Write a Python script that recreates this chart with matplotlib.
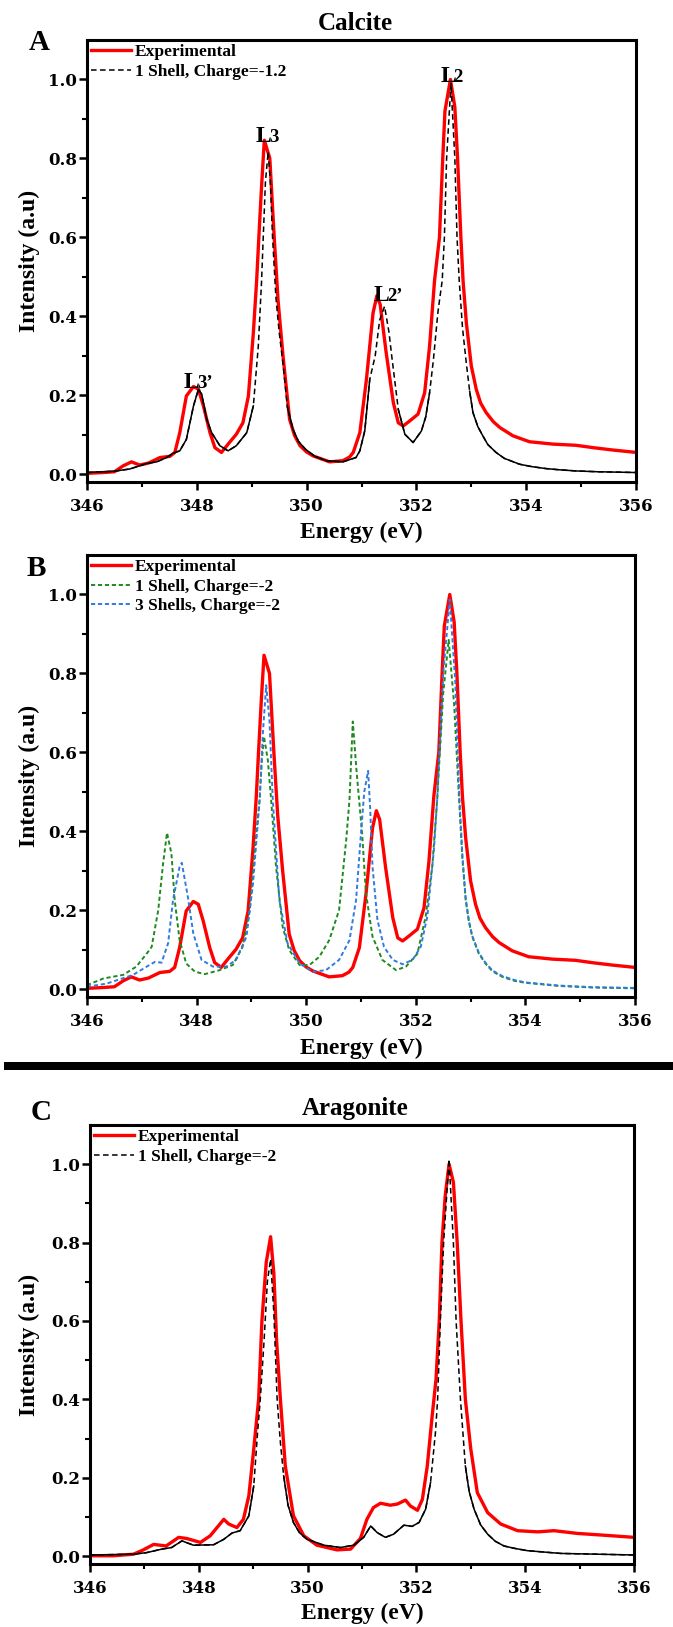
import numpy as np
import matplotlib
matplotlib.use("Agg")
import matplotlib.pyplot as plt
from matplotlib.ticker import FixedLocator
from matplotlib.patches import Rectangle

plt.rcParams['lines.scale_dashes'] = False
plt.rcParams['font.family'] = ['DejaVu Serif']
plt.rcParams['font.weight'] = 'bold'
SERIF = ['Liberation Serif', 'DejaVu Serif']

# ---------------- data ----------------
# Calcite experimental spectrum (panels A and B)
calc_exp_x = [346.0, 346.3, 346.5, 346.66, 346.81, 346.96, 347.12, 347.33, 347.51, 347.6, 347.69,
              347.81, 347.94, 348.03, 348.12, 348.24, 348.33, 348.45, 348.57, 348.72, 348.84, 348.94,
              349.03, 349.09, 349.13, 349.18, 349.23, 349.33, 349.41, 349.48, 349.57, 349.69, 349.78,
              349.88, 350.0, 350.12, 350.42, 350.66, 350.78, 350.85, 350.97, 351.09, 351.21, 351.28,
              351.34, 351.45, 351.58, 351.67, 351.76, 351.88, 352.03, 352.15, 352.24, 352.33, 352.42,
              352.48, 352.52, 352.62, 352.7, 352.75, 352.81, 352.85, 352.91, 353.0, 353.09, 353.17,
              353.27, 353.4, 353.52, 353.76, 354.06, 354.49, 354.91, 355.22, 355.58, 356.0]
calc_exp_y = [0.002, 0.004, 0.006, 0.021, 0.031, 0.023, 0.028, 0.042, 0.045, 0.055, 0.105,
              0.198, 0.222, 0.215, 0.173, 0.105, 0.067, 0.055, 0.076, 0.101, 0.130, 0.198,
              0.358, 0.49, 0.60, 0.73, 0.846, 0.80, 0.60, 0.44, 0.30, 0.139, 0.098,
              0.072, 0.056, 0.046, 0.031, 0.034, 0.043, 0.055, 0.105, 0.24, 0.408, 0.452,
              0.43, 0.307, 0.181, 0.13, 0.122, 0.135, 0.152, 0.206, 0.324, 0.49, 0.60,
              0.80, 0.92, 1.0, 0.93, 0.80, 0.60, 0.49, 0.383, 0.274, 0.215, 0.18,
              0.156, 0.133, 0.118, 0.097, 0.082, 0.076, 0.073, 0.067, 0.061, 0.055]

# Calcite model: 1 Shell, Charge=-1.2 (panel A)
calc_m12_x = [346.0, 346.48, 346.78, 347.09, 347.27, 347.45, 347.57, 347.69, 347.81, 347.94, 348.03,
              348.09, 348.18, 348.27, 348.42, 348.57, 348.72, 348.91, 349.03, 349.12, 349.18, 349.21,
              349.25, 349.30, 349.34, 349.38, 349.44, 349.5, 349.57, 349.65, 349.75, 349.85, 349.98,
              350.15, 350.36, 350.66, 350.9, 350.97, 351.06, 351.15, 351.25, 351.33, 351.42, 351.5,
              351.55, 351.67, 351.79, 351.94, 352.09, 352.17, 352.24, 352.31, 352.39, 352.43, 352.47,
              352.51, 352.55, 352.63, 352.70, 352.74, 352.78, 352.84, 352.91, 352.97, 353.03, 353.12,
              353.21, 353.3, 353.45, 353.6, 353.88, 354.1, 354.36, 354.6, 354.91, 355.3, 356.0]
calc_m12_y = [0.004, 0.007, 0.013, 0.027, 0.031, 0.042, 0.053, 0.059, 0.088, 0.173, 0.215,
              0.202, 0.139, 0.105, 0.072, 0.059, 0.072, 0.105, 0.173, 0.324, 0.49, 0.60,
              0.74, 0.817, 0.74, 0.60, 0.45, 0.36, 0.28, 0.17, 0.114, 0.083, 0.063,
              0.045, 0.034, 0.031, 0.042, 0.059, 0.11, 0.24, 0.30, 0.39, 0.425, 0.36,
              0.30, 0.164, 0.101, 0.08, 0.109, 0.145, 0.206, 0.29, 0.408, 0.45, 0.49,
              0.60, 0.80, 0.99, 0.80, 0.60, 0.49, 0.37, 0.28, 0.21, 0.156, 0.12,
              0.097, 0.075, 0.055, 0.04, 0.025, 0.019, 0.014, 0.011, 0.008, 0.006, 0.004]

# Calcite model: 1 Shell, Charge=-2 (panel B, green)
calc_1s_x = [346.0, 346.3, 346.66, 346.9, 347.09, 347.18, 347.30, 347.39, 347.46, 347.54, 347.60,
             347.69, 347.81, 347.97, 348.15, 348.42, 348.66, 348.84, 348.97, 349.09, 349.15, 349.19,
             349.23, 349.30, 349.36, 349.45, 349.57, 349.69, 349.88, 350.06, 350.24, 350.42, 350.60,
             350.73, 350.79, 350.85, 350.92, 351.02, 351.09, 351.21, 351.39, 351.64, 351.82, 352.03,
             352.18, 352.30, 352.39, 352.50, 352.60, 352.70, 352.79, 352.85, 352.91, 352.97, 353.03,
             353.15, 353.27, 353.4, 353.58, 353.8, 354.0, 354.61, 355.22, 356.0]
calc_1s_y = [0.010, 0.027, 0.036, 0.057, 0.09, 0.107, 0.20, 0.32, 0.396, 0.344, 0.226,
             0.124, 0.065, 0.044, 0.038, 0.048, 0.061, 0.107, 0.20, 0.395, 0.48, 0.58,
             0.64, 0.58, 0.48, 0.31, 0.158, 0.099, 0.061, 0.061, 0.082, 0.124, 0.20,
             0.378, 0.48, 0.678, 0.55, 0.395, 0.243, 0.133, 0.074, 0.048, 0.057, 0.09,
             0.184, 0.31, 0.48, 0.75, 0.885, 0.72, 0.48, 0.33, 0.226, 0.17, 0.133,
             0.09, 0.065, 0.045, 0.031, 0.021, 0.016, 0.008, 0.004, 0.002]

# Calcite model: 3 Shells, Charge=-2 (panel B, blue)
calc_3s_x = [346.0, 346.36, 346.84, 347.09, 347.24, 347.36, 347.48, 347.57, 347.69, 347.73, 347.84,
             347.94, 348.09, 348.30, 348.54, 348.72, 348.91, 349.03, 349.15, 349.21, 349.27, 349.33,
             349.39, 349.51, 349.66, 349.88, 350.12, 350.36, 350.60, 350.79, 350.91, 351.0, 351.06,
             351.13, 351.17, 351.21, 351.30, 351.42, 351.58, 351.76, 351.94, 352.09, 352.21, 352.33,
             352.39, 352.50, 352.62, 352.72, 352.79, 352.85, 352.91, 352.97, 353.03, 353.15, 353.27,
             353.4, 353.58, 353.8, 354.0, 354.61, 355.22, 356.0]
calc_3s_y = [0.006, 0.014, 0.036, 0.057, 0.069, 0.067, 0.116, 0.226, 0.31, 0.32, 0.234,
             0.141, 0.074, 0.057, 0.057, 0.074, 0.133, 0.268, 0.48, 0.65, 0.77, 0.68,
             0.48, 0.226, 0.116, 0.065, 0.044, 0.048, 0.074, 0.124, 0.226, 0.395, 0.50,
             0.553, 0.45, 0.31, 0.175, 0.107, 0.074, 0.063, 0.074, 0.107, 0.184, 0.353,
             0.48, 0.80, 0.987, 0.78, 0.50, 0.34, 0.23, 0.172, 0.135, 0.092, 0.067,
             0.047, 0.033, 0.023, 0.017, 0.009, 0.005, 0.003]

# Aragonite experimental spectrum (panel C)
arag_exp_x = [346.0, 346.43, 346.8, 346.98, 347.17, 347.4, 347.63, 347.78, 348.03, 348.21, 348.46,
              348.55, 348.7, 348.82, 348.92, 349.01, 349.1, 349.16, 349.24, 349.32, 349.38, 349.43,
              349.5, 349.59, 349.74, 349.93, 350.17, 350.54, 350.79, 350.97, 351.09, 351.21, 351.34,
              351.52, 351.65, 351.8, 351.89, 352.02, 352.11, 352.2, 352.29, 352.36, 352.42, 352.47,
              352.53, 352.6, 352.68, 352.75, 352.82, 352.9, 353.0, 353.12, 353.31, 353.55, 353.86,
              354.23, 354.53, 354.96, 355.39, 356.0]
arag_exp_y = [0.001, 0.001, 0.005, 0.016, 0.030, 0.026, 0.048, 0.045, 0.035, 0.052, 0.094,
              0.082, 0.073, 0.094, 0.154, 0.273, 0.40, 0.60, 0.75, 0.815, 0.72, 0.55,
              0.40, 0.23, 0.103, 0.052, 0.028, 0.016, 0.018, 0.045, 0.094, 0.124, 0.135,
              0.13, 0.133, 0.143, 0.128, 0.117, 0.145, 0.23, 0.358, 0.45, 0.60, 0.80,
              0.92, 1.0, 0.954, 0.80, 0.60, 0.40, 0.273, 0.162, 0.111, 0.082, 0.065,
              0.062, 0.065, 0.058, 0.054, 0.048]

# Aragonite model: 1 Shell, Charge=-2 (panel C)
arag_m2_x = [346.0, 346.8, 347.04, 347.32, 347.5, 347.69, 347.9, 348.27, 348.46, 348.61, 348.76,
             348.92, 349.01, 349.08, 349.13, 349.2, 349.26, 349.32, 349.38, 349.44, 349.5, 349.56,
             349.64, 349.74, 349.85, 349.99, 350.3, 350.6, 350.85, 351.03, 351.16, 351.28, 351.43,
             351.58, 351.77, 351.92, 352.05, 352.17, 352.26, 352.35, 352.39, 352.44, 352.5, 352.6,
             352.68, 352.73, 352.81, 352.9, 352.97, 353.06, 353.18, 353.31, 353.45, 353.61, 353.8,
             354.04, 354.65, 356.0]
arag_m2_y = [0.003, 0.005, 0.009, 0.018, 0.022, 0.039, 0.028, 0.029, 0.043, 0.059, 0.065,
             0.103, 0.179, 0.315, 0.40, 0.55, 0.70, 0.758, 0.62, 0.40, 0.29, 0.205,
             0.13, 0.086, 0.06, 0.043, 0.028, 0.022, 0.028, 0.048, 0.077, 0.06, 0.048,
             0.056, 0.079, 0.076, 0.086, 0.12, 0.188, 0.315, 0.40, 0.60, 0.80, 1.013,
             0.80, 0.60, 0.40, 0.23, 0.165, 0.12, 0.08, 0.056, 0.038, 0.026, 0.02,
             0.014, 0.007, 0.003]

x_ticks = [346, 348, 350, 352, 354, 356]
x_minor = [347, 349, 351, 353, 355]
y_ticks = [0.0, 0.2, 0.4, 0.6, 0.8, 1.0]
y_tick_labels = ['0.0', '0.2', '0.4', '0.6', '0.8', '1.0']
y_minor = [0.1, 0.3, 0.5, 0.7, 0.9]

# peak labels for panel A: (main, sub, x, y)
peak_labels = [('L', '3', 349.34, 0.842), ('L', '2', 352.70, 0.994),
               ('L', '2\u2019', 351.48, 0.438), ('L', '3\u2019', 348.02, 0.219)]

# ---------------- figure ----------------
W, H = 673, 1627
fig = plt.figure(figsize=(W / 100, H / 100), dpi=100)


def rect(l, r, t, b):
    return [l / W, 1 - b / H, (r - l) / W, (b - t) / H]


axA = fig.add_axes(rect(87, 636, 40, 482))
axB = fig.add_axes(rect(87, 635, 555, 997))
axC = fig.add_axes(rect(90, 634, 1125, 1564))

RED = '#ff0000'
GREEN = '#1f8a1f'
BLUE = '#2f7be0'


def style(ax, left, width, ylab_dy):
    ax.set_xlim(346, 356)
    ax.set_ylim(-0.02, 1.1)
    ax.xaxis.set_major_locator(FixedLocator(x_ticks))
    ax.xaxis.set_minor_locator(FixedLocator(x_minor))
    ax.yaxis.set_major_locator(FixedLocator(y_ticks))
    ax.yaxis.set_minor_locator(FixedLocator(y_minor))
    ax.set_yticklabels(y_tick_labels)
    ax.set_xticklabels([str(v) for v in x_ticks])
    ax.tick_params(which='major', direction='out', length=5.8, width=1.8,
                   labelsize=12, top=False, right=False)
    ax.tick_params(axis='x', which='major', pad=5.5)
    ax.tick_params(axis='y', which='major', pad=1.5)
    ax.tick_params(which='minor', direction='out', length=3.5, width=1.5, top=False, right=False)
    for sp in ax.spines.values():
        sp.set_linewidth(2.2)
    ax.set_xlabel('Energy (eV)', fontsize=17, family=SERIF, weight='bold')
    ax.set_ylabel('Intensity (a.u)', fontsize=17, family=SERIF, weight='bold')
    ax.xaxis.label.set_va('center')
    ax.yaxis.label.set_va('center')
    ax.xaxis.set_label_coords(0.5, ylab_dy)
    ax.yaxis.set_label_coords((29 - left) / width, 0.5)


def model(ax, x, y, color, label, lw, dash, thr=None):
    ax.plot(x, y, color=color, lw=lw, ls=(0, dash), label=label)
    if thr is not None:
        ya = np.asarray(y)
        ax.plot(x, np.ma.masked_where(ya > thr, ya), color=color, lw=lw, ls='-')


def legend(ax):
    ax.legend(loc='upper left', bbox_to_anchor=(0, 1), frameon=False,
              prop={'family': SERIF, 'weight': 'bold', 'size': 12.5},
              borderaxespad=0.0, borderpad=0.22, handlelength=2.3,
              handletextpad=0.25, labelspacing=0.2)


# Panel A
axA.plot(calc_exp_x, calc_exp_y, color=RED, lw=2.4, label='Experimental')
model(axA, calc_m12_x, calc_m12_y, 'black', '1 Shell, Charge=-1.2', 1.1, (4, 2.5), thr=0.25)
style(axA, 87, 549, -50 / 442)
legend(axA)
for main, sub, x, y in peak_labels:
    axA.text(x + 0.02, y, main, ha='right', va='baseline', fontsize=17, family=SERIF, weight='bold')
    axA.text(x - 0.02, y, sub, ha='left', va='baseline', fontsize=13.5, family=SERIF, weight='bold')

# Panel B
axB.plot(calc_exp_x, calc_exp_y, color=RED, lw=2.4, label='Experimental')
model(axB, calc_1s_x, calc_1s_y, GREEN, '1 Shell, Charge=-2', 1.4, (3, 2))
model(axB, calc_3s_x, calc_3s_y, BLUE, '3 Shells, Charge=-2', 1.4, (3, 2))
style(axB, 87, 548, -51 / 442)
legend(axB)

# Panel C
axC.plot(arag_exp_x, arag_exp_y, color=RED, lw=2.4, label='Experimental')
model(axC, arag_m2_x, arag_m2_y, 'black', '1 Shell, Charge=-2', 1.1, (4, 2.5), thr=0.25)
style(axC, 90, 544, -49 / 439)
legend(axC)

# titles and panel letters
fig.text(355 / W, 1 - 23 / H, 'Calcite', ha='center', va='center', fontsize=18,
         family=SERIF, weight='bold')
fig.text(355 / W, 1 - 1108 / H, 'Aragonite', ha='center', va='center', fontsize=18,
         family=SERIF, weight='bold')
fig.text(39 / W, 1 - 43 / H, 'A', ha='center', va='center', fontsize=21, family=SERIF, weight='bold')
fig.text(36 / W, 1 - 568 / H, 'B', ha='center', va='center', fontsize=21, family=SERIF, weight='bold')
fig.text(41 / W, 1 - 1113 / H, 'C', ha='center', va='center', fontsize=21, family=SERIF, weight='bold')

# separator bar
fig.add_artist(Rectangle((4 / W, 1 - 1070 / H), (W - 4) / W, 8 / H,
                         transform=fig.transFigure, color='black', lw=0))

fig.savefig('out.png', dpi=100)
